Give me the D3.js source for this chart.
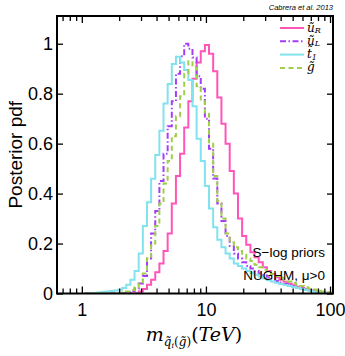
<!DOCTYPE html>
<html>
<head>
<meta charset="utf-8">
<script src="https://cdn.jsdelivr.net/npm/d3@7"></script>
<style>
  body { margin: 0; background: #fff; }
  svg { display: block; }
</style>
</head>
<body>
<script>
// histogram bins: 30 per decade in log10(m/TeV), first edge at 10^0.025
var firstEdge = 0.025;
var binsPerDecade = 30;

var uR = [0, 0, 0, 0, 0, 0, 0, 0, 0, 0,
          0, 0, 0.001, 0.008, 0.018, 0.035, 0.055, 0.085, 0.12, 0.17,
          0.24, 0.36, 0.47, 0.56, 0.665, 0.77, 0.86, 0.925, 0.97, 0.995,
          0.96, 0.89, 0.785, 0.68, 0.6, 0.49, 0.40, 0.30, 0.23, 0.195,
          0.165, 0.145, 0.125, 0.105, 0.09, 0.078, 0.065, 0.055, 0.047, 0.04,
          0.033, 0.027, 0.022, 0.017, 0.013, 0.01, 0.007, 0.005, 0.003, 0.002];
var uL = [0, 0, 0, 0, 0, 0, 0, 0, 0, 0,
          0.005, 0.01, 0.02, 0.04, 0.07, 0.14, 0.24, 0.33, 0.45, 0.56,
          0.67, 0.77, 0.88, 0.95, 1.0, 0.98, 0.945, 0.87, 0.82, 0.70,
          0.58, 0.46, 0.36, 0.29, 0.23, 0.19, 0.16, 0.14, 0.125, 0.11,
          0.1, 0.09, 0.08, 0.072, 0.064, 0.057, 0.05, 0.044, 0.038, 0.033,
          0.028, 0.023, 0.019, 0.015, 0.012, 0.009, 0.006, 0.004, 0.002, 0.001];
var t1 = [0, 0.001, 0.002, 0.004, 0.006, 0.008, 0.01, 0.012, 0.015, 0.022,
          0.035, 0.055, 0.09, 0.16, 0.27, 0.365, 0.459, 0.555, 0.652, 0.761,
          0.839, 0.919, 0.948, 0.925, 0.895, 0.855, 0.75, 0.62, 0.53, 0.43,
          0.34, 0.265, 0.215, 0.185, 0.16, 0.14, 0.12, 0.11, 0.1, 0.09,
          0.082, 0.075, 0.068, 0.06, 0.053, 0.048, 0.043, 0.038, 0.034, 0.03,
          0.026, 0.022, 0.018, 0.014, 0.011, 0.008, 0.005, 0.003, 0.002, 0.001];
var gl = [0, 0, 0, 0, 0, 0, 0, 0, 0.002, 0.004,
          0.008, 0.014, 0.025, 0.045, 0.08, 0.14, 0.2, 0.27, 0.36, 0.44,
          0.53, 0.63, 0.71, 0.79, 0.88, 0.93, 0.905, 0.83, 0.77, 0.72,
          0.6, 0.47, 0.37, 0.3, 0.24, 0.205, 0.185, 0.17, 0.155, 0.14,
          0.13, 0.115, 0.105, 0.095, 0.087, 0.078, 0.07, 0.063, 0.055, 0.048,
          0.042, 0.036, 0.03, 0.025, 0.02, 0.016, 0.012, 0.008, 0.005, 0.003];

var yTicks = [0, 0.2, 0.4, 0.6, 0.8, 1];
var xMajor = [1, 10, 100];
var xMinor = [0.7, 0.8, 0.9, 2, 3, 4, 5, 6, 7, 8, 9, 20, 30, 40, 50, 60, 70, 80, 90];

var series = [
  { key: "uR", values: uR, color: "#ff55b8", dash: null },
  { key: "uL", values: uL, color: "#a63cf7", dash: "6,2.5,1.5,2.5" },
  { key: "t1", values: t1, color: "#82e2ee", dash: null },
  { key: "g",  values: gl, color: "#9fcf4a", dash: "5,3.5" }
];

var W = 345, H = 356;
var L = 57, R = 333, T = 16, B = 293.5;

var svg = d3.select("body").append("svg")
  .attr("width", W).attr("height", H)
  .style("font-family", "'Liberation Sans', Arial, sans-serif");

var x = d3.scaleLog().domain([Math.pow(10, -0.2), Math.pow(10, 2.024)]).range([L, R]);
var y = d3.scaleLinear().domain([0, 1.11]).range([B, T + 0.25]);

var edges = d3.range(uR.length + 1).map(function (j) {
  return Math.pow(10, firstEdge + j / binsPerDecade);
});

svg.append("defs").append("clipPath").attr("id", "plot")
  .append("rect").attr("x", L).attr("y", T).attr("width", R - L).attr("height", B - T);

var line = d3.line()
  .x(function (d) { return x(d[0]); })
  .y(function (d) { return y(d[1]); })
  .curve(d3.curveStepAfter);

var g = svg.append("g").attr("clip-path", "url(#plot)");
series.forEach(function (s) {
  var pts = s.values.map(function (v, j) { return [edges[j], v]; });
  pts.push([edges[edges.length - 1], s.values[s.values.length - 1]]);
  g.append("path")
    .attr("d", line(pts))
    .attr("fill", "none")
    .attr("stroke", s.color)
    .attr("stroke-width", 2)
    .attr("stroke-dasharray", s.dash);
});

// axes, ticks pointing inward on all four sides
var fmt = function (d) { return xMajor.indexOf(d) >= 0 ? d3.format("d")(d) : ""; };
var allX = xMajor.concat(xMinor);

var ax = svg.append("g").attr("transform", "translate(0," + B + ")")
  .call(d3.axisBottom(x).tickValues(allX).tickFormat(fmt).tickSize(-5).tickPadding(10));
var axTop = svg.append("g").attr("transform", "translate(0," + T + ")")
  .call(d3.axisTop(x).tickValues(allX).tickFormat("").tickSize(-5));
var ay = svg.append("g").attr("transform", "translate(" + L + ",0)")
  .call(d3.axisLeft(y).tickValues(yTicks).tickFormat(d3.format("")).tickSize(-6).tickPadding(4));
var ayR = svg.append("g").attr("transform", "translate(" + R + ",0)")
  .call(d3.axisRight(y).tickValues(yTicks).tickFormat("").tickSize(-6));

[ax, axTop, ay, ayR].forEach(function (a) {
  a.select(".domain").remove();
  a.selectAll("line").attr("stroke", "#000").attr("stroke-width", 1.3);
  a.selectAll("text").attr("fill", "#000").style("font-size", "18px")
    .style("font-family", "'Liberation Sans', Arial, sans-serif");
});
ax.selectAll(".tick").filter(function (d) { return xMajor.indexOf(d) >= 0; })
  .select("line").attr("y2", -7);
axTop.selectAll(".tick").filter(function (d) { return xMajor.indexOf(d) >= 0; })
  .select("line").attr("y2", 7);

svg.append("rect")
  .attr("x", L).attr("y", T).attr("width", R - L).attr("height", B - T)
  .attr("fill", "none").attr("stroke", "#000").attr("stroke-width", 2);

// y label
svg.append("text")
  .attr("transform", "translate(22," + ((T + B) / 2) + ") rotate(-90)")
  .attr("text-anchor", "middle")
  .style("font-size", "19px")
  .text("Posterior pdf");

// x label
var xl = svg.append("text")
  .attr("x", 194).attr("y", 341)
  .attr("text-anchor", "middle")
  .style("font-family", "'DejaVu Serif', 'Liberation Serif', serif")
  .style("font-style", "italic")
  .style("font-size", "19px");
xl.append("tspan").text("m");
xl.append("tspan").attr("dy", 5).style("font-size", "12px").text("q\u0303");
xl.append("tspan").attr("dy", 2).style("font-size", "8px").text("i");
xl.append("tspan").attr("dy", -2).style("font-size", "12px").style("font-style", "normal").text("(");
xl.append("tspan").style("font-size", "12px").text("g\u0303");
xl.append("tspan").style("font-size", "12px").style("font-style", "normal").text(")");
xl.append("tspan").attr("dy", -5).style("font-style", "normal").text("(");
xl.append("tspan").text("TeV");
xl.append("tspan").style("font-style", "normal").text(")");

// credit
svg.append("text")
  .attr("x", R).attr("y", 10).attr("text-anchor", "end")
  .style("font-size", "7.5px").style("font-style", "italic")
  .text("Cabrera et al. 2013");

// legend
var legendLabels = [["u\u0303", "R"], ["u\u0303", "L"], ["t\u0303", "1"], ["g\u0303", ""]];
var lg = svg.append("g");
series.forEach(function (s, i) {
  var yy = 28 + i * 13.3;
  lg.append("line")
    .attr("x1", 280).attr("x2", 304).attr("y1", yy).attr("y2", yy)
    .attr("stroke", s.color).attr("stroke-width", 2)
    .attr("stroke-dasharray", s.dash);
  var t = lg.append("text").attr("x", 307).attr("y", yy + 3.5)
    .style("font-family", "'DejaVu Serif', 'Liberation Serif', serif")
    .style("font-style", "italic").style("font-size", "12px");
  t.append("tspan").text(legendLabels[i][0]);
  if (legendLabels[i][1]) {
    t.append("tspan").attr("dy", 1.5).style("font-size", "8px").text(legendLabels[i][1]);
  }
});

// annotations
svg.append("text").attr("x", 325).attr("y", 257).attr("text-anchor", "end")
  .style("font-size", "13.5px").text("S\u2212log priors");
svg.append("text").attr("x", 325).attr("y", 280).attr("text-anchor", "end")
  .style("font-size", "13.5px").text("NUGHM, \u03bc>0");
</script>
</body>
</html>
